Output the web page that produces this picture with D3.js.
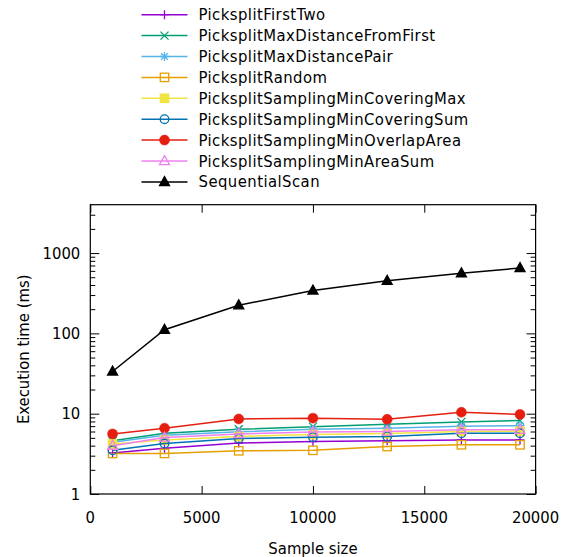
<!DOCTYPE html>
<html>
<head>
<meta charset="utf-8">
<script src="https://cdn.jsdelivr.net/npm/d3@7"></script>
<style>
  html, body { margin: 0; padding: 0; background: #fff; }
  svg { display: block; }
  text { font-family: "DejaVu Sans Condensed", "DejaVu Sans", sans-serif; font-stretch: condensed; fill: #000; }
  .legend-text { letter-spacing: 0.45px; }
</style>
</head>
<body>
<svg id="chart" width="573" height="557"></svg>
<script>
// Sample sizes along the x axis
const sampleSizes = [1000, 3333, 6667, 10000, 13333, 16667, 19300];

// Execution time (ms) per method
const pickFirstTwo          = [3.25, 3.7, 4.3, 4.5, 4.6, 4.7, 4.7];
const pickMaxDistFromFirst  = [4.6, 5.7, 6.4, 6.9, 7.4, 7.9, 8.2];
const pickMaxDistPair       = [4.4, 5.4, 5.95, 6.4, 6.6, 7.0, 7.1];
const pickRandom            = [3.2, 3.2, 3.45, 3.5, 3.9, 4.1, 4.1];
const samplingMinCovMax     = [4.2, 4.7, 5.2, 5.5, 5.65, 6.0, 6.05];
const samplingMinCovSum     = [3.5, 4.25, 4.9, 5.1, 5.2, 5.7, 5.7];
const samplingMinOverlap    = [5.6, 6.6, 8.6, 8.8, 8.5, 10.4, 9.8];
const samplingMinAreaSum    = [4.0, 5.05, 5.6, 5.9, 6.0, 6.3, 6.3];
const sequentialScan        = [33.5, 111, 224, 342, 452, 562, 650];

const seriesNames = [
  "PicksplitFirstTwo", "PicksplitMaxDistanceFromFirst", "PicksplitMaxDistancePair",
  "PicksplitRandom", "PicksplitSamplingMinCoveringMax", "PicksplitSamplingMinCoveringSum",
  "PicksplitSamplingMinOverlapArea", "PicksplitSamplingMinAreaSum", "SequentialScan"
];
const seriesValues = [
  pickFirstTwo, pickMaxDistFromFirst, pickMaxDistPair, pickRandom, samplingMinCovMax,
  samplingMinCovSum, samplingMinOverlap, samplingMinAreaSum, sequentialScan
];
const seriesColors = [
  "#9400d3", "#009e73", "#56b4e9", "#e69f00", "#f0e442",
  "#0072b2", "#e51e10", "#f080f0", "#000000"
];
const seriesMarkers = ["plus", "cross", "star", "square", "squareFill",
                       "circle", "circleFill", "triangle", "triangleFill"];

const xTickValues = [0, 5000, 10000, 15000, 20000];
const yTickValues = [1, 10, 100, 1000];
const xDomain = [0, 20000];
const yDomain = [1, 4000];

const svg = d3.select("#chart");
const plotLeft = 90.3, plotRight = 535.6, plotTop = 204.7, plotBottom = 494;

const x = d3.scaleLinear().domain(xDomain).range([plotLeft, plotRight]);
const y = d3.scaleLog().domain(yDomain).range([plotBottom, plotTop]);

// Minor ticks for the log axis: 2..9 in each decade
const yMinor = [];
[1, 10, 100, 1000].forEach(d => {
  for (let k = 2; k <= 9; k++) { const v = d * k; if (v < yDomain[1]) yMinor.push(v); }
});

const fontSize = 16.5;

// Axes (ticks pointing inward, mirrored on the opposite side)
const gAxes = svg.append("g");
const leftAxis = d3.axisRight(y).tickValues(yTickValues).tickSize(9).tickFormat("");
const leftMinor = d3.axisRight(y).tickValues(yMinor).tickSize(5).tickFormat("");
const rightAxis = d3.axisLeft(y).tickValues(yTickValues).tickSize(9).tickFormat("");
const rightMinor = d3.axisLeft(y).tickValues(yMinor).tickSize(5).tickFormat("");
const bottomAxis = d3.axisTop(x).tickValues(xTickValues).tickSize(8).tickFormat("");
const topAxis = d3.axisBottom(x).tickValues(xTickValues).tickSize(8).tickFormat("");

gAxes.append("g").attr("transform", `translate(${plotLeft},0)`).call(leftAxis);
gAxes.append("g").attr("transform", `translate(${plotLeft},0)`).call(leftMinor);
gAxes.append("g").attr("transform", `translate(${plotRight},0)`).call(rightAxis);
gAxes.append("g").attr("transform", `translate(${plotRight},0)`).call(rightMinor);
gAxes.append("g").attr("transform", `translate(0,${plotBottom})`).call(bottomAxis);
gAxes.append("g").attr("transform", `translate(0,${plotTop})`).call(topAxis);
gAxes.selectAll(".domain").remove();
gAxes.selectAll(".tick line").attr("stroke", "#000").attr("stroke-width", 1);

// Tick labels
svg.append("g").selectAll("text").data(yTickValues).join("text")
  .attr("x", plotLeft - 10).attr("y", d => y(d))
  .attr("text-anchor", "end").attr("dominant-baseline", "central")
  .attr("font-size", fontSize).text(d => d);
svg.append("g").selectAll("text").data(xTickValues).join("text")
  .attr("x", d => x(d)).attr("y", 517)
  .attr("text-anchor", "middle").attr("dominant-baseline", "central")
  .attr("font-size", fontSize).text(d => d);

// Frame
svg.append("rect").attr("x", plotLeft).attr("y", plotTop)
  .attr("width", plotRight - plotLeft).attr("height", plotBottom - plotTop)
  .attr("fill", "none").attr("stroke", "#000").attr("stroke-width", 1.2);

// Axis titles
svg.append("text").attr("x", (plotLeft + plotRight) / 2).attr("y", 548)
  .attr("text-anchor", "middle").attr("dominant-baseline", "central")
  .attr("font-size", fontSize).text("Sample size");
svg.append("text")
  .attr("transform", `translate(23,${(plotTop + plotBottom) / 2}) rotate(-90)`)
  .attr("text-anchor", "middle").attr("dominant-baseline", "central")
  .attr("font-size", fontSize).text("Execution time (ms)");

// Marker drawing
function drawMarker(g, type, cx, cy, color) {
  const sw = 1.3;
  if (type === "plus" || type === "star") {
    const h = 4.5;
    g.append("path").attr("d", `M${cx - h},${cy}H${cx + h}M${cx},${cy - h}V${cy + h}`)
      .attr("stroke", color).attr("stroke-width", sw).attr("fill", "none");
  }
  if (type === "cross" || type === "star") {
    const h = type === "star" ? 3.3 : 4;
    g.append("path").attr("d", `M${cx - h},${cy - h}L${cx + h},${cy + h}M${cx - h},${cy + h}L${cx + h},${cy - h}`)
      .attr("stroke", color).attr("stroke-width", sw).attr("fill", "none");
  }
  if (type === "square" || type === "squareFill") {
    const h = 4.2;
    g.append("rect").attr("x", cx - h).attr("y", cy - h).attr("width", 2 * h).attr("height", 2 * h)
      .attr("fill", type === "squareFill" ? color : "none")
      .attr("stroke", color).attr("stroke-width", sw);
  }
  if (type === "circle") {
    g.append("circle").attr("cx", cx).attr("cy", cy).attr("r", 4.3)
      .attr("fill", "none").attr("stroke", color).attr("stroke-width", sw);
  }
  if (type === "circleFill") {
    g.append("circle").attr("cx", cx).attr("cy", cy).attr("r", 5)
      .attr("fill", color).attr("stroke", color).attr("stroke-width", 0.5);
  }
  if (type === "triangle" || type === "triangleFill") {
    const w = 5, ht = 9;
    g.append("path")
      .attr("d", `M${cx},${cy - ht * 0.6}L${cx + w},${cy + ht * 0.4}L${cx - w},${cy + ht * 0.4}Z`)
      .attr("fill", type === "triangleFill" ? color : "none")
      .attr("stroke", color).attr("stroke-width", sw);
  }
}

// Series lines and points
const line = d3.line().x(d => x(d[0])).y(d => y(d[1]));
const gPlot = svg.append("g");
seriesValues.forEach((vals, i) => {
  const pts = sampleSizes.map((s, j) => [s, vals[j]]);
  const g = gPlot.append("g");
  g.append("path").datum(pts).attr("d", line)
    .attr("fill", "none").attr("stroke", seriesColors[i]).attr("stroke-width", 1.5);
  pts.forEach(p => drawMarker(g, seriesMarkers[i], x(p[0]), y(p[1]), seriesColors[i]));
});

// Legend
const gLegend = svg.append("g");
seriesNames.forEach((name, i) => {
  const cy = 14.7 + i * 20.9;
  gLegend.append("line").attr("x1", 141.5).attr("x2", 187.5).attr("y1", cy).attr("y2", cy)
    .attr("stroke", seriesColors[i]).attr("stroke-width", 1.5);
  drawMarker(gLegend, seriesMarkers[i], 164.5, cy, seriesColors[i]);
  gLegend.append("text").attr("class", "legend-text").attr("x", 198.5).attr("y", cy)
    .attr("dominant-baseline", "central").attr("font-size", fontSize).text(name);
});
</script>
</body>
</html>
